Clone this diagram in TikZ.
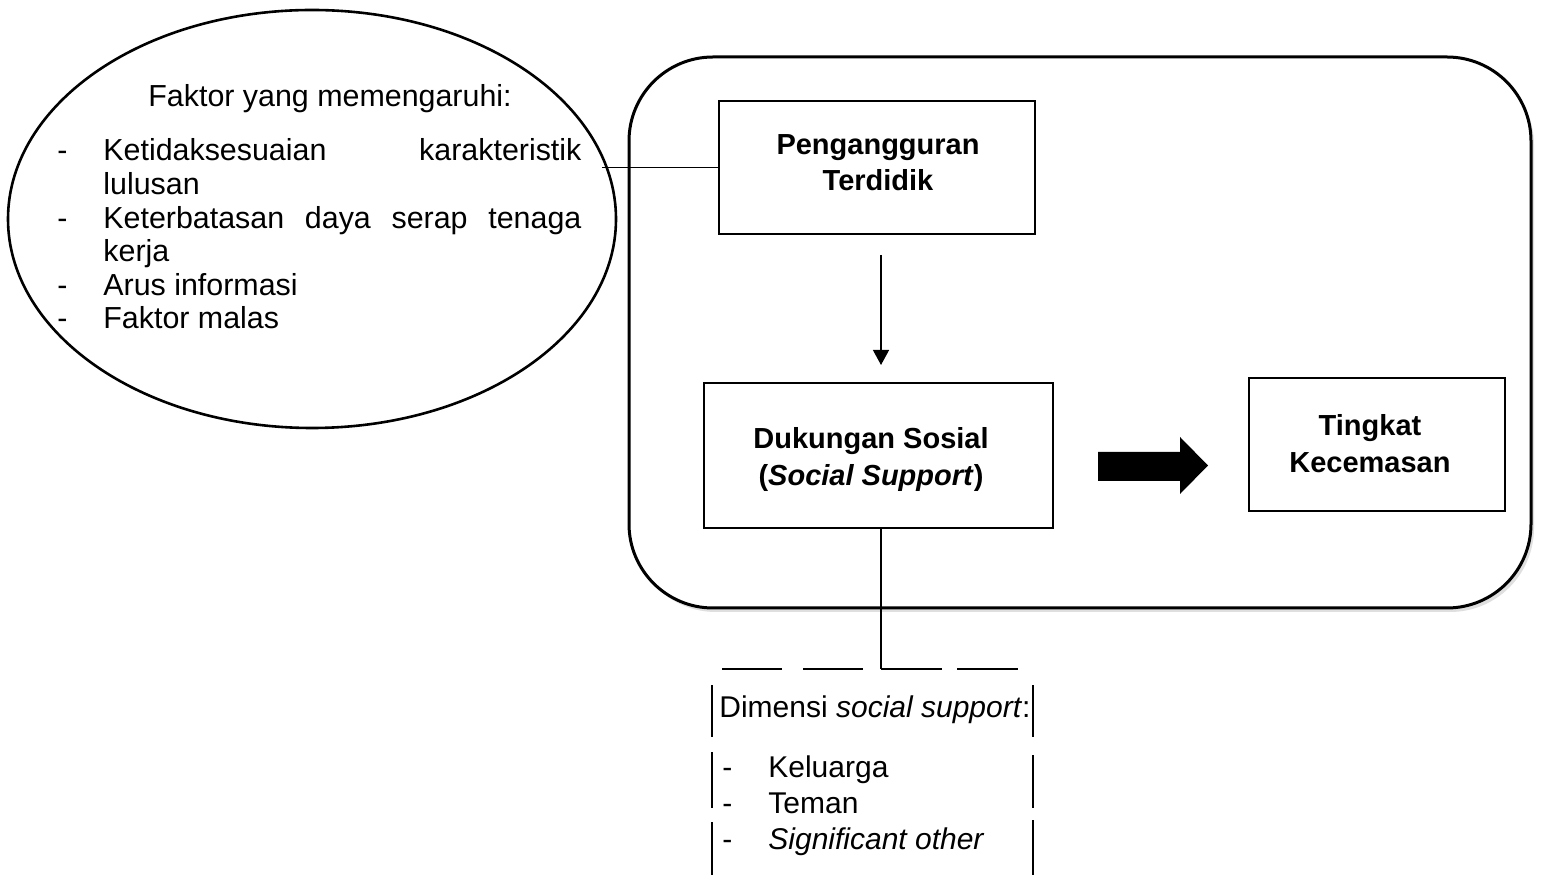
\documentclass[tikz,border=0pt]{standalone}
\usepackage{fontspec}
\setmainfont{Liberation Sans}
\usetikzlibrary{shapes.geometric,arrows.meta,shadows}
\newcommand\txtreg{\fontsize{15.2}{16.8}\selectfont}
\newcommand\txtdim{\fontsize{15}{18}\selectfont}
\newcommand\txtbold{\fontsize{14.5}{18.2}\selectfont\bfseries}
\begin{document}
\begin{tikzpicture}[x=0.5pt,y=-0.5pt,
  box/.style={draw, line width=1.3pt, inner sep=0pt},
  conn/.style={line width=0.6pt},
  dimline/.style={line width=0.6pt},
  txt/.style={inner sep=0pt}]
\useasboundingbox (0,0) rectangle (1542,881);
\fill[white] (0,0) rectangle (1542,881);

% outer rounded frame
\node[draw, line width=1.5pt, rounded corners=42pt, fill=white,
      minimum width=451pt, minimum height=275.5pt, inner sep=0pt,
      drop shadow={shadow xshift=1.5pt, shadow yshift=-2pt, opacity=0.25, fill=black!50}]
      (frame) at (1080,332.5) {};

% ellipse of factors
\node[draw, ellipse, line width=1.3pt, minimum width=304pt, minimum height=209pt, inner sep=0pt]
      (fell) at (312,219) {};
\node[txt, anchor=base west, font=\txtreg] (ftitle) at (148,107) {Faktor yang memengaruhi:};
\node[txt, anchor=base west, font=\txtreg] (flist) at (57,161) {%
\begin{tabular}[t]{@{}l@{}}
\makebox[23pt][l]{-}\makebox[239pt][s]{Ketidaksesuaian karakteristik}\\
\makebox[23pt][l]{}lulusan\\
\makebox[23pt][l]{-}\makebox[239pt][s]{Keterbatasan daya serap tenaga}\\
\makebox[23pt][l]{}kerja\\
\makebox[23pt][l]{-}Arus informasi\\
\makebox[23pt][l]{-}Faktor malas
\end{tabular}};

% boxes
\node[box, minimum width=158pt, minimum height=66.5pt] (peng) at (877,167.5) {};
\node[txt, anchor=base, font=\txtbold] (peng-t) at (878,154.5)
  {\begin{tabular}[t]{@{}c@{}}Pengangguran\\Terdidik\end{tabular}};

\node[box, minimum width=174.5pt, minimum height=72.5pt] (duk) at (878.5,455.5) {};
\node[txt, anchor=base, font=\txtbold] (duk-t) at (871,449)
  {\begin{tabular}[t]{@{}c@{}}Dukungan Sosial\\(\textit{Social Support})\end{tabular}};

\node[box, minimum width=128pt, minimum height=66.5pt] (ting) at (1377,444.5) {};
\node[txt, anchor=base, font=\txtbold] (ting-t) at (1370,436)
  {\begin{tabular}[t]{@{}c@{}}Tingkat\\Kecemasan\end{tabular}};

% connectors
\coordinate (ecoord) at (602,167.5);
\draw[conn] (ecoord) -- (peng.west);

\coordinate (ar1) at (881,255);
\coordinate (ar2) at (881,365);
\draw[conn, -{Triangle[width=8pt,length=7.5pt]}] (ar1) -- (ar2);

% thick arrow
\fill[black] (1098,452) -- (1180,452) -- (1180,437) -- (1208,465.5)
  -- (1180,494) -- (1180,481) -- (1098,481) -- cycle;

% dimension box
\node[txt, minimum width=160.5pt, minimum height=103pt] (dimbox) at (872.5,772) {};
\coordinate (dimtop) at (881,669);
\draw[conn] (duk.south -| dimtop) -- (dimtop);

\draw[dimline] (722,669) -- (782,669);
\draw[dimline] (803,669) -- (863,669);
\draw[dimline] (881,669) -- (942,669);
\draw[dimline] (957,669) -- (1018,669);
\draw[dimline] (712,685) -- (712,737);
\draw[dimline] (712,752) -- (712,808);
\draw[dimline] (712,822) -- (712,875);
\draw[dimline] (1033,685) -- (1033,737);
\draw[dimline] (1033,755) -- (1033,808);
\draw[dimline] (1033,820) -- (1033,875);

\node[txt, anchor=base west, font=\txtdim] (dtitle) at (719,717) {Dimensi \textit{social support}:};
\node[txt, anchor=base west, font=\txtdim] (dlist) at (722,777) {%
\begin{tabular}[t]{@{}l@{}}
\makebox[23pt][l]{-}Keluarga\\
\makebox[23pt][l]{-}Teman\\
\makebox[23pt][l]{-}\textit{Significant other}
\end{tabular}};
\end{tikzpicture}
\end{document}
